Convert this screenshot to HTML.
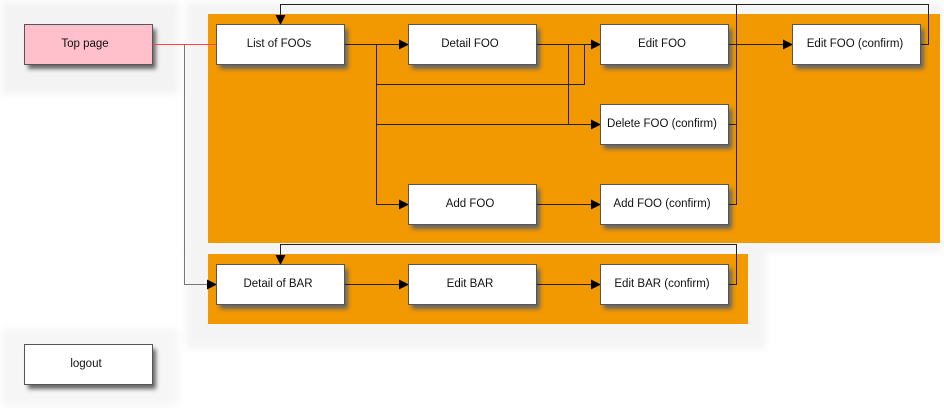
<!DOCTYPE html>
<html><head><meta charset="utf-8"><style>
html,body{margin:0;padding:0;background:#fff;width:944px;height:408px;overflow:hidden}
text{font-family:"Liberation Sans",sans-serif;font-size:11.5px;fill:#111;text-anchor:middle}
</style></head><body>
<svg width="944" height="408" viewBox="0 0 944 408" xmlns="http://www.w3.org/2000/svg">
<defs>
<filter id="bl" x="-10%" y="-10%" width="120%" height="120%"><feGaussianBlur stdDeviation="4"/></filter>
<filter id="sb" x="-10%" y="-20%" width="130%" height="150%"><feGaussianBlur stdDeviation="2"/></filter>
<marker id="a" markerWidth="10" markerHeight="10" refX="9" refY="5" orient="auto" markerUnits="userSpaceOnUse"><path d="M0,0 L10,5 L0,10 z" fill="#000"/></marker>
</defs>
<rect x="2" y="2" width="176" height="92" fill="#f3f3f3" filter="url(#bl)"/>
<rect x="2" y="328" width="176" height="78" fill="#f6f6f6" filter="url(#bl)"/>
<rect x="186" y="2" width="756" height="250" fill="#f4f4f4" filter="url(#bl)"/>
<rect x="186" y="245" width="580" height="103" fill="#f4f4f4" filter="url(#bl)"/>
<rect x="208" y="14" width="732" height="229" fill="#f29800"/>
<rect x="208" y="254" width="540" height="70" fill="#f29800"/>
<g fill="#666" filter="url(#sb)">
<rect x="28" y="29" width="128" height="40"/><rect x="220" y="29" width="128" height="40"/><rect x="412" y="29" width="128" height="40"/><rect x="604" y="29" width="128" height="40"/><rect x="796" y="29" width="128" height="40"/>
<rect x="604" y="109" width="128" height="40"/><rect x="412" y="189" width="128" height="40"/><rect x="604" y="189" width="128" height="40"/>
<rect x="220" y="269" width="128" height="40"/><rect x="412" y="269" width="128" height="40"/><rect x="604" y="269" width="128" height="40"/><rect x="28" y="349" width="128" height="40"/>
</g>
<g fill="none" stroke="#222" stroke-width="1">
<path d="M344.5,44.5H408" marker-end="url(#a)"/>
<path d="M376.5,44.5V204.5H408" marker-end="url(#a)"/>
<path d="M376.5,84.5H584.5V44.5"/>
<path d="M376.5,124.5H600" marker-end="url(#a)"/>
<path d="M568.5,44.5V124.5"/>
<path d="M536.5,44.5H600" marker-end="url(#a)"/>
<path d="M728.5,44.5H792" marker-end="url(#a)"/>
<path d="M536.5,204.5H600" marker-end="url(#a)"/>
<path d="M728,124.5H736.5M728,204.5H736.5V4.5"/>
<path d="M920,44.5H928.5V4.5H280.5V24" marker-end="url(#a)"/>
<path d="M344.5,284.5H408" marker-end="url(#a)"/>
<path d="M536.5,284.5H600" marker-end="url(#a)"/>
<path d="M728,284.5H736.5V244.5H280.5V264" marker-end="url(#a)"/>
</g>
<path d="M184.5,44.5V284.5H216" fill="none" stroke="#777" marker-end="url(#a)"/>
<path d="M152,44.5H216" stroke="#f44" stroke-width="1"/>
<g stroke="#555" stroke-width="1">
<rect x="24.5" y="24.5" width="128" height="40" fill="#ffc0cb"/>
<g fill="#fff">
<rect x="216.5" y="24.5" width="128" height="40"/><rect x="408.5" y="24.5" width="128" height="40"/><rect x="600.5" y="24.5" width="128" height="40"/><rect x="792.5" y="24.5" width="128" height="40"/>
<rect x="600.5" y="104.5" width="128" height="40"/><rect x="408.5" y="184.5" width="128" height="40"/><rect x="600.5" y="184.5" width="128" height="40"/>
<rect x="216.5" y="264.5" width="128" height="40"/><rect x="408.5" y="264.5" width="128" height="40"/><rect x="600.5" y="264.5" width="128" height="40"/><rect x="24.5" y="344.5" width="128" height="40"/>
</g></g>
<text x="85" y="47">Top page</text>
<text x="279" y="47">List of FOOs</text>
<text x="470" y="47">Detail FOO</text>
<text x="662" y="47">Edit FOO</text>
<text x="855" y="47">Edit FOO (confirm)</text>
<text x="662" y="127">Delete FOO (confirm)</text>
<text x="470" y="207">Add FOO</text>
<text x="662" y="207">Add FOO (confirm)</text>
<text x="278" y="287">Detail of BAR</text>
<text x="470" y="287">Edit BAR</text>
<text x="662" y="287">Edit BAR (confirm)</text>
<text x="86" y="367">logout</text>
</svg>
</body></html>
